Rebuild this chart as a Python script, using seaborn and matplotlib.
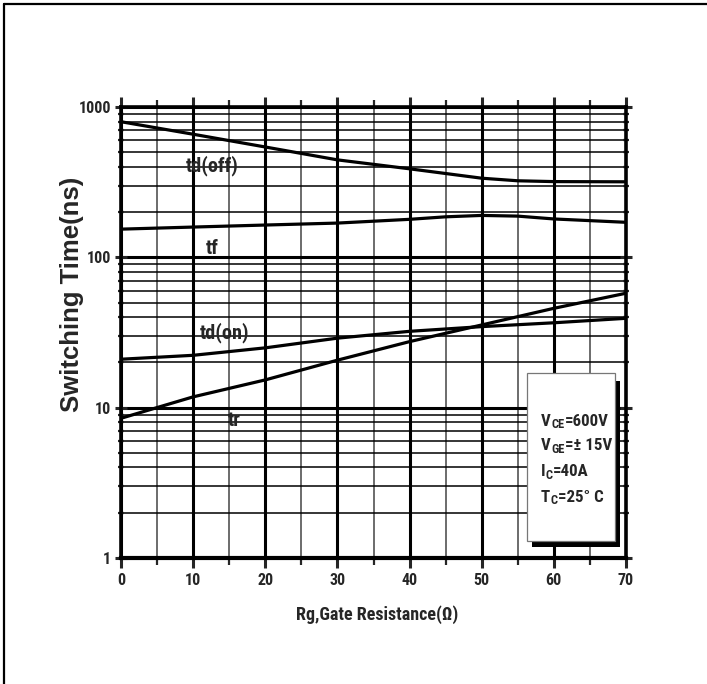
import numpy as np
import pandas as pd
import matplotlib
matplotlib.use("Agg")
import matplotlib.pyplot as plt
import matplotlib.font_manager as fm
import seaborn as sns
from matplotlib.ticker import MultipleLocator, LogLocator, FixedLocator, NullFormatter
from matplotlib.lines import Line2D
from matplotlib.patches import Rectangle

# ---- data ----
x_tdoff = [0, 10, 20, 30, 40, 50, 55, 60, 70]
y_tdoff = [798, 659, 542, 445, 388, 336, 323, 319, 318]

x_tf = [0, 10, 20, 30, 40, 45, 50, 55, 60, 70]
y_tf = [154, 159, 164, 169, 179, 186, 190, 188, 180, 171]

x_tdon = [0, 10, 20, 30, 40, 50, 60, 70]
y_tdon = [21.0, 22.3, 25.0, 29.0, 32.2, 34.6, 36.7, 39.3]

x_tr = [0, 10, 20, 30, 40, 50, 60, 70]
y_tr = [8.5, 11.8, 15.3, 20.7, 27.5, 35.5, 45.8, 57.7]

series_names = ["td(off)", "tf", "td(on)", "tr"]
x_ticks = [0, 10, 20, 30, 40, 50, 60, 70]
y_ticks = [1, 10, 100, 1000]
y_ticklabels = ["1", "10", "100", "1000"]
cond_main = ["V", "V", "I", "T"]
cond_sub = ["CE", "GE", "C", "C"]
cond_rest = ["=600V", "=\u00b1 15V", "=40A", "=25\u00b0 C"]

sns.set_style("white")

# ---- choose a condensed bold font if one is installed ----
names = {f.name for f in fm.fontManager.ttflist}
NARROW, STRETCH, SCALE = None, "normal", 1.0
for cand in ["Liberation Sans Narrow", "Arial Narrow", "Roboto Condensed",
             "Open Sans Condensed"]:
    if cand in names:
        NARROW = cand
        break
if NARROW is None:
    if any(f.name == "DejaVu Sans" and "condensed" in str(f.stretch).lower()
           for f in fm.fontManager.ttflist):
        NARROW, STRETCH, SCALE = "DejaVu Sans", "condensed", 0.92
    else:
        NARROW, SCALE = "Liberation Sans", 0.86

plt.rcParams["font.family"] = [NARROW, "DejaVu Sans"]
plt.rcParams["font.stretch"] = STRETCH
plt.rcParams["font.weight"] = "bold"

def fs(v):
    return v * SCALE

W, H = 707, 684
fig = plt.figure(figsize=(W / 100, H / 100), dpi=100)
L, R, T, B = 121, 626, 107, 558
ax = fig.add_axes([L / W, 1 - B / H, (R - L) / W, (B - T) / H])

frames = []
for name, xs, ys in zip(series_names, [x_tdoff, x_tf, x_tdon, x_tr],
                        [y_tdoff, y_tf, y_tdon, y_tr]):
    frames.append(pd.DataFrame({"Rg": xs, "t": ys, "series": name}))
df = pd.concat(frames, ignore_index=True)

for name in series_names:
    sub = df[df["series"] == name]
    sns.lineplot(data=sub, x="Rg", y="t", ax=ax, color="black", lw=2.3,
                 sort=True, estimator=None, legend=False, zorder=5)

ax.set_yscale("log")
ax.set_xlim(0, 70)
ax.set_ylim(1, 1000)

ax.xaxis.set_major_locator(FixedLocator(x_ticks))
ax.xaxis.set_minor_locator(MultipleLocator(5))
ax.yaxis.set_major_locator(FixedLocator(y_ticks))
ax.yaxis.set_minor_locator(LogLocator(base=10, subs=np.arange(2, 10)))
ax.yaxis.set_minor_formatter(NullFormatter())
ax.set_yticklabels(y_ticklabels)
ax.set_xticklabels([str(v) for v in x_ticks])

ax.grid(which="major", axis="both", color="black", lw=2.2, zorder=1)
ax.grid(which="minor", axis="y", color="black", lw=1.1, zorder=1)
ax.grid(which="minor", axis="x", color="#444444", lw=1.1, zorder=1)
ax.set_axisbelow(True)

for s in ax.spines.values():
    s.set_linewidth(2.6)
    s.set_color("black")
ax.spines["bottom"].set_linewidth(3.0)

ax.tick_params(axis="x", which="major", direction="out", length=7, width=2.2,
               top=True, bottom=True, labelsize=fs(11.5), pad=4)
ax.tick_params(axis="x", which="minor", direction="out", length=5, width=1.6,
               top=True, bottom=True)
ax.tick_params(axis="y", which="major", direction="inout", length=8, width=2.2,
               left=True, right=True, labelsize=fs(11.5), pad=3)
ax.tick_params(axis="y", which="minor", direction="inout", length=5, width=1.6,
               left=True, right=True)
for lab in ax.get_xticklabels() + ax.get_yticklabels():
    lab.set_fontweight("bold")

ax.set_xlabel("Rg,Gate Resistance(\u03a9)", fontsize=fs(13), fontweight="bold")
ax.set_ylabel("Switching Time(ns)", fontsize=18.5, fontweight="bold",
              family=["Liberation Sans", "DejaVu Sans"], stretch="normal")
ax.xaxis.set_label_coords((377 - L) / (R - L), (B - 605) / (B - T))
ax.yaxis.set_label_coords((84 - L) / (R - L), (B - 294) / (B - T))

def px2ax(px, py):
    return (px - L) / (R - L), (B - py) / (B - T)

# curve labels
for name, (px, py) in zip(series_names, [(212, 166), (212, 249), (224, 333), (234, 420)]):
    ax.text(*px2ax(px, py), name, transform=ax.transAxes, ha="center", va="center",
            fontsize=fs(14.5), fontweight="bold", zorder=6)

# condition box with shadow
sx0, sy0 = px2ax(532, 547)
sx1, sy1 = px2ax(620, 381)
ax.add_patch(Rectangle((sx0, sy0), sx1 - sx0, sy1 - sy0, transform=ax.transAxes,
                       facecolor="black", edgecolor="none", zorder=7, clip_on=False))
bx0, by0 = px2ax(527, 541)
bx1, by1 = px2ax(615, 373)
ax.add_patch(Rectangle((bx0, by0), bx1 - bx0, by1 - by0, transform=ax.transAxes,
                       facecolor="white", edgecolor="#777777", lw=0.9, zorder=8,
                       clip_on=False))
for m, sb, rest, py in zip(cond_main, cond_sub, cond_rest, [421, 446, 472, 497]):
    t1 = ax.text(*px2ax(541, py), m, transform=ax.transAxes, ha="left",
                 va="center", fontsize=fs(12.2), fontweight="bold", zorder=9)
    t2 = ax.annotate(sb, xy=(1, 0), xycoords=t1, xytext=(0.3, 2.8),
                     textcoords="offset points", ha="left", va="center",
                     fontsize=fs(9), fontweight="bold", zorder=9)
    ax.annotate(rest, xy=(1, 0.5), xycoords=(t2, t1), xytext=(0.3, 0),
                textcoords="offset points", ha="left", va="center",
                fontsize=fs(12.2), fontweight="bold", zorder=9)

# outer frame (top and left edges visible)
fig.add_artist(Line2D([4 / W, 1.0], [1 - 4 / H, 1 - 4 / H], color="black", lw=1.6,
                      transform=fig.transFigure))
fig.add_artist(Line2D([4 / W, 4 / W], [0.0, 1 - 4 / H], color="black", lw=1.6,
                      transform=fig.transFigure))

fig.savefig("out.png", dpi=100, facecolor="white")
